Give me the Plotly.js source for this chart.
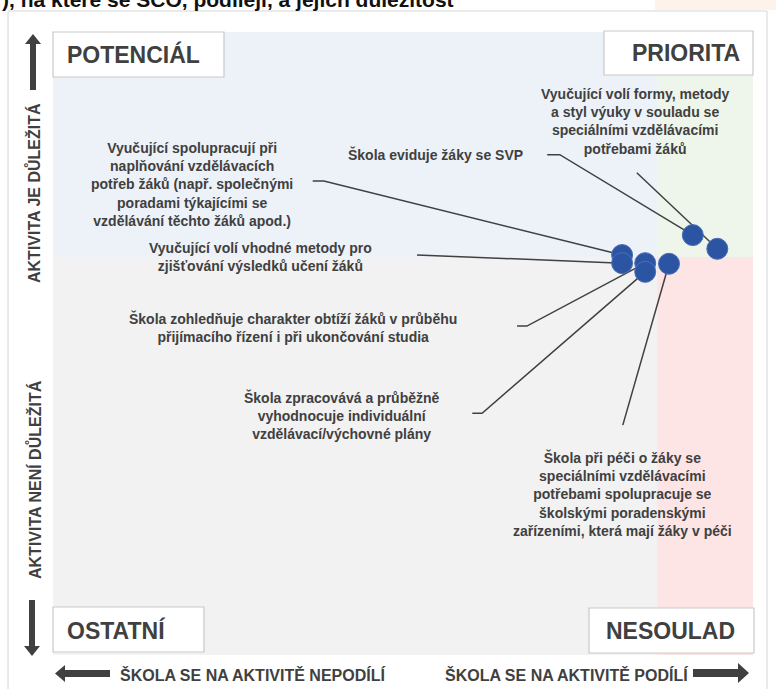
<!DOCTYPE html>
<html>
<head>
<meta charset="utf-8">
<script src="https://cdn.plot.ly/plotly-3.0.1.min.js"></script>
<style>
  html, body { margin: 0; padding: 0; background: #fff; }
  #chart { width: 776px; height: 689px; }
</style>
</head>
<body>
<div id="chart"></div>
<script>
// --- data: each activity, how much the school takes part (x) and how important it is (y) ---
const activities = [
    'Vyučující spolupracují při<br>naplňování vzdělávacích<br>potřeb žáků (např. společnými<br>poradami týkajícími se<br>vzdělávání těchto žáků apod.)',
    'Škola eviduje žáky se SVP',
    'Vyučující volí vhodné metody pro<br>zjišťování výsledků učení žáků',
    'Škola zohledňuje charakter obtíží žáků v průběhu<br>přijímacího řízení i při ukončování studia',
    'Škola zpracovává a průběžně<br>vyhodnocuje individuální<br>vzdělávací/výchovné plány',
    'Škola při péči o žáky se<br>speciálními vzdělávacími<br>potřebami spolupracuje se<br>školskými poradenskými<br>zařízeními, která mají žáky v péči',
    'Vyučující volí formy, metody<br>a styl výuky v souladu se<br>speciálními vzdělávacími<br>potřebami žáků'
];
const participation = [81.3, 91.4, 81.3, 84.6, 84.6, 88.0, 94.9];
const importance    = [64.2, 67.4, 62.9, 62.9, 61.5, 62.8, 65.2];

// quadrant thresholds
const participationLimit = 86.3;
const importanceLimit = 63.9;

const quadrantNames = ['POTENCIÁL', 'PRIORITA', 'OSTATNÍ', 'NESOULAD'];
const axisTexts = ['AKTIVITA JE DŮLEŽITÁ', 'AKTIVITA NENÍ DŮLEŽITÁ',
                   'ŠKOLA SE NA AKTIVITĚ NEPODÍLÍ', 'ŠKOLA SE NA AKTIVITĚ PODÍLÍ'];
const headerText = '), na které se ŠČO, podílejí, a jejich důležitost';

// --- label placement (layout only) ---
const labelX = [19.9, 54.6, 29.7, 34.3, 41.3, 81.4, 83.1];
const labelY = [75.6, 80.3, 63.9, 52.6, 38.5, 25.8, 85.7];
const leaderX = [37.1, 70.6, 52.0, 66.3, 59.9, 81.4, 83.4];
const leaderY = [76.1, 80.3, 64.2, 52.8, 38.8, 36.9, 77.4];
const leaderTick = [1.6, 1.8, 0, 1.4, 1.4, 0, 0];

// plot area in pixels: x 53..753, y 32..655
const L = 53, R = 753, T = 32, B = 655;
const px = v => (v - L) / (R - L);
const py = v => (B - v) / (B - T);

const dark = '#404040';
const font = 'Liberation Sans, Arial, sans-serif';

const traces = activities.map((a, i) => ({
    x: [leaderX[i], leaderX[i] + leaderTick[i], participation[i]],
    y: [leaderY[i], leaderY[i], importance[i]],
    mode: 'lines',
    type: 'scatter',
    line: { color: dark, width: 1.5 },
    hoverinfo: 'skip',
    showlegend: false
}));

traces.push({
    x: participation,
    y: importance,
    mode: 'markers',
    type: 'scatter',
    marker: { size: 21, color: '#2b55a3', line: { color: '#4a6fb8', width: 1 } },
    text: activities,
    hoverinfo: 'text',
    showlegend: false
});

const quadrant = (x0, x1, y0, y1, color) => ({
    type: 'rect', xref: 'x', yref: 'y', x0, x1, y0, y1,
    fillcolor: color, line: { width: 0 }, layer: 'below'
});

const box = (x0, x1, y0, y1) => ({
    type: 'rect', xref: 'paper', yref: 'paper',
    x0: px(x0), x1: px(x1), y0: py(y1), y1: py(y0),
    fillcolor: '#ffffff', line: { color: '#c9c9c9', width: 1.2 }
});

// arrow helpers (pixel coords -> paper path)
const path = pts => 'M ' + pts.map(p => px(p[0]) + ' ' + py(p[1])).join(' L ') + ' Z';
const fillShape = pts => ({
    type: 'path', xref: 'paper', yref: 'paper', path: path(pts),
    fillcolor: dark, line: { width: 0 }
});

const shapes = [
    // outer frame
    { type: 'rect', xref: 'paper', yref: 'paper', x0: px(8), x1: px(767), y0: py(705), y1: py(11),
      line: { color: '#d6d6d6', width: 1 }, fillcolor: 'rgba(0,0,0,0)', layer: 'below' },
    { type: 'rect', xref: 'paper', yref: 'paper', x0: px(655), x1: px(776), y0: py(10), y1: py(0),
      line: { width: 0 }, fillcolor: '#fdf3eb', layer: 'below' },
    quadrant(0, participationLimit, importanceLimit, 100, '#edf2f9'),
    quadrant(participationLimit, 100, importanceLimit, 100, '#eef5ea'),
    quadrant(0, participationLimit, 0, importanceLimit, '#f2f2f2'),
    quadrant(participationLimit, 100, 0, importanceLimit, '#fde4e5'),
    box(53, 224, 32, 77),
    box(604, 753, 31, 75),
    box(53, 204, 607, 652),
    box(589, 754, 608, 653),
    // up arrow
    fillShape([[30, 90], [36, 90], [36, 44], [41, 44], [33, 34], [25, 44], [30, 44]]),
    // down arrow
    fillShape([[29, 600], [35, 600], [35, 646], [40, 646], [32, 656], [24, 646], [29, 646]]),
    // left arrow
    fillShape([[110, 670], [110, 677], [65, 677], [65, 682], [55, 673.5], [65, 665], [65, 670]]),
    // right arrow
    fillShape([[693, 669], [693, 677], [738, 677], [738, 683], [749, 673], [738, 663], [738, 669]])
];

const annotations = activities.map((a, i) => ({
    x: labelX[i], y: labelY[i], xref: 'x', yref: 'y',
    text: '<b>' + a + '</b>', showarrow: false, align: 'center',
    xanchor: 'center', yanchor: 'middle',
    font: { family: font, size: 14, color: dark }
}));

const quadText = (text, x, y, anchor) => ({
    x: px(x), y: py(y), xref: 'paper', yref: 'paper',
    text: '<b>' + text + '</b>', showarrow: false,
    xanchor: anchor, yanchor: 'middle',
    font: { family: font, size: 23, color: dark }
});
annotations.push(quadText(quadrantNames[0], 65, 55, 'left'));
annotations.push(quadText(quadrantNames[1], 742, 53, 'right'));
annotations.push(quadText(quadrantNames[2], 65, 630, 'left'));
annotations.push(quadText(quadrantNames[3], 737, 631, 'right'));

const axisText = (text, x, y, angle) => ({
    x: px(x), y: py(y), xref: 'paper', yref: 'paper',
    text: '<b>' + text + '</b>', showarrow: false, textangle: angle,
    xanchor: 'center', yanchor: 'middle',
    font: { family: font, size: 16, color: dark }
});
annotations.push(axisText(axisTexts[0], 34, 193, -90));
annotations.push(axisText(axisTexts[1], 34, 480, -90));
annotations.push(axisText(axisTexts[2], 252, 675, 0));
annotations.push(axisText(axisTexts[3], 566, 675, 0));

annotations.push({
    x: px(0), y: py(0), xref: 'paper', yref: 'paper',
    text: '<b>' + headerText + '</b>', showarrow: false,
    xanchor: 'left', yanchor: 'middle',
    font: { family: font, size: 21, color: '#111111' }
});

const axis = range => ({
    range, showgrid: false, zeroline: false, showticklabels: false,
    showline: false, ticks: '', fixedrange: true
});

const layout = {
    width: 776,
    height: 689,
    margin: { l: L, r: 776 - R, t: T, b: 689 - B },
    paper_bgcolor: '#ffffff',
    plot_bgcolor: '#ffffff',
    xaxis: axis([0, 100]),
    yaxis: axis([0, 100]),
    shapes,
    annotations,
    showlegend: false
};

Plotly.newPlot('chart', traces, layout, { displayModeBar: false, staticPlot: true });
</script>
</body>
</html>
